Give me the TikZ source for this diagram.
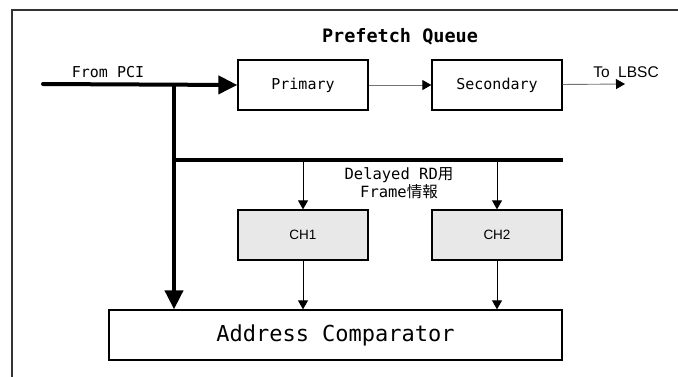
\documentclass[tikz,border=0pt]{standalone}
\usepackage{fontspec}
\setmainfont{DejaVu Sans Mono}
\newfontfamily\jpfont{Noto Sans CJK JP}
\newfontfamily\arialfont{Liberation Sans}
\usetikzlibrary{arrows.meta}
\tikzset{>={Triangle[length=9pt,width=10pt,color=black]}}
\tikzset{
  blockbox/.style={draw, line width=1.3pt, minimum width=130pt, minimum height=50pt, inner sep=0pt, font=\fontsize{15}{18}\selectfont},
  chbox/.style={blockbox, fill=black!9, font=\arialfont\fontsize{13.5}{16}\selectfont},
  thickbus/.style={line width=4pt},
  bigarrow/.style={line width=4pt, -{Triangle[length=19pt,width=18pt]}},
  sigline/.style={line width=0.9pt, ->},
  lbl/.style={inner sep=0pt, font=\fontsize{15}{18}\selectfont},
}

\begin{document}
\begin{tikzpicture}[x=1pt,y=-1pt]
            \clip (0,0) rectangle (678,376);
            \draw[line width=1.3pt, black!80] (12,10) rectangle (720,420);

            \node[lbl, font=\bfseries\fontsize{18.5}{20}\selectfont] (title) at (400,37) {Prefetch Queue};

            \node[blockbox] (prim) at (303,85) {Primary};
            \node[blockbox] (sec) at (497,85) {Secondary};
            \node[chbox] (ch1) at (303,235) {CH1};
            \node[chbox] (ch2) at (497,235) {CH2};
            \node[blockbox, minimum width=453pt, font=\fontsize{22}{26}\selectfont] (addr) at (335.5,335) {Address Comparator};

            \coordinate (pcistart) at (43,84);
            \coordinate (junc) at (174,84);
            \coordinate (busL) at (174,160);
            \coordinate (busR) at (563,160);
            \coordinate (lbscend) at (625,84);

            \node[lbl] (pcilbl) at (108,72) {From PCI};
            \node[lbl, font=\arialfont\fontsize{15.5}{18}\selectfont] (lbsclbl) at (626,72) {To\ \ LBSC};
            \node[lbl, align=center, font=\fontsize{15.5}{18}\selectfont] (rdlbl) at (399,183) {Delayed RD{\jpfont 用}\\Frame{\jpfont 情報}};

            % PCI side
            \draw[bigarrow, line cap=round] (pcistart) -- (prim.west);
            \draw[bigarrow] (junc) -- (junc |- addr.north);
            \draw[thickbus] (busL) -- (busR);

            % queue
            \draw[sigline, black!55] (prim) -- (sec);
            \draw[sigline, black!55] (sec) -- (lbscend);

            % channels
            \draw[sigline] (ch1 |- busL) -- (ch1.north);
            \draw[sigline] (ch2 |- busL) -- (ch2.north);
            \draw[sigline] (ch1) -- (ch1 |- addr.north);
            \draw[sigline] (ch2) -- (ch2 |- addr.north);

        \end{tikzpicture}
\end{document}
